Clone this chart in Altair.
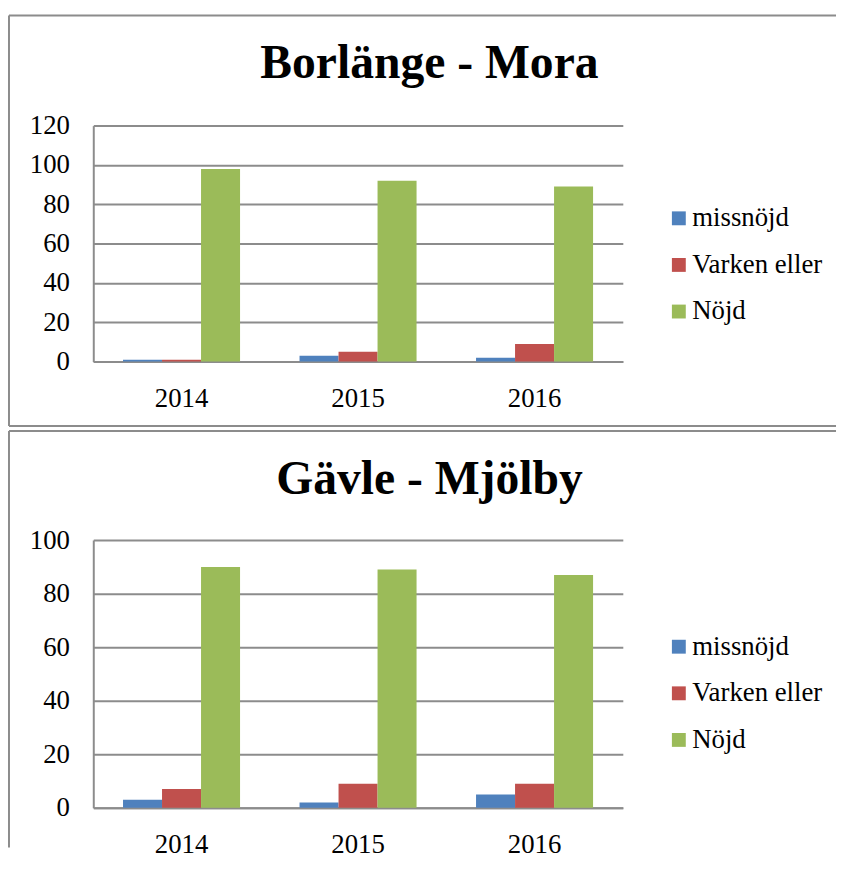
import altair as alt
import pandas as pd

years = ["2014", "2015", "2016"]
series = ["missnöjd", "Varken eller", "Nöjd"]
colors = ["#4F81BD", "#C0504D", "#9BBB59"]

borlange_title = "Borlänge - Mora"
borlange_missnojd = [1, 3, 2]
borlange_varken = [1, 5, 9]
borlange_nojd = [98, 92, 89]
borlange_ticks = [0, 20, 40, 60, 80, 100, 120]

gavle_title = "Gävle - Mjölby"
gavle_missnojd = [3, 2, 5]
gavle_varken = [7, 9, 9]
gavle_nojd = [90, 89, 87]
gavle_ticks = [0, 20, 40, 60, 80, 100]

FONT = "Liberation Serif"
GRAY = "#8c8c8c"


def make_df(a, b, c):
    rows = []
    for s, vals in zip(series, [a, b, c]):
        for y, v in zip(years, vals):
            rows.append({"year": y, "series": s, "value": v})
    return pd.DataFrame(rows)


def panel(title, df, ticks, height, legend_y, title_y, frame_top, frame_bottom, bottom_border):
    bars = alt.Chart(df).mark_bar().encode(
        x=alt.X("year:N", sort=years,
                scale=alt.Scale(paddingInner=0.337, paddingOuter=0.1685),
                axis=alt.Axis(title=None, labelAngle=0, ticks=False, domainColor=GRAY,
                              domainWidth=2, labelFont=FONT, labelFontSize=27,
                              labelColor="black", labelPadding=24, grid=False)),
        xOffset=alt.XOffset("series:N", sort=series,
                            scale=alt.Scale(paddingInner=0, paddingOuter=0)),
        y=alt.Y("value:Q", scale=alt.Scale(domain=[0, ticks[-1]], nice=False),
                axis=alt.Axis(title=None, values=ticks, ticks=False, domainColor=GRAY,
                              domainWidth=2, gridColor=GRAY, gridWidth=2,
                              labelFont=FONT, labelFontSize=27, labelColor="black",
                              labelPadding=24)),
        color=alt.Color("series:N", sort=series,
                        scale=alt.Scale(domain=series, range=colors),
                        legend=alt.Legend(title=None, orient="none", legendX=577,
                                          legendY=legend_y, symbolType="square",
                                          symbolSize=196, symbolStrokeWidth=0,
                                          labelFont=FONT, labelFontSize=27,
                                          labelColor="black", labelOffset=0,
                                          rowPadding=19)),
    )
    one = pd.DataFrame({"k": [0]})
    top = alt.Chart(one).mark_rule(color=GRAY, strokeWidth=2).encode(
        x=alt.value(-85), x2=alt.value(749), y=alt.value(frame_top))
    left = alt.Chart(one).mark_rule(color=GRAY, strokeWidth=2).encode(
        x=alt.value(-85), y=alt.value(frame_top), y2=alt.value(frame_bottom))
    layers = [bars, top, left]
    if bottom_border:
        bottom = alt.Chart(one).mark_rule(color=GRAY, strokeWidth=2).encode(
            x=alt.value(-85), x2=alt.value(749), y=alt.value(frame_bottom))
        layers.append(bottom)
    ttl = alt.Chart(pd.DataFrame({"t": [title]})).mark_text(
        font=FONT, fontSize=48, fontWeight="bold", align="center",
        baseline="alphabetic", color="black").encode(
        text="t:N", x=alt.value(339), y=alt.value(title_y))
    layers.append(ttl)
    return alt.layer(*layers).properties(width=534, height=height)


c1 = panel(borlange_title, make_df(borlange_missnojd, borlange_varken, borlange_nojd),
           borlange_ticks, 238, 80, -48, -111, 303, True)
c2 = panel(gavle_title, make_df(gavle_missnojd, gavle_varken, gavle_nojd),
           gavle_ticks, 270, 94, -46, -110, 310, False)

chart = alt.vconcat(c1, c2, spacing=3).resolve_scale(color="independent").resolve_legend(
    color="independent").properties(
    padding={"left": 0, "top": 3, "right": 0, "bottom": 0}
).configure_view(stroke=None)

chart.save("out.html", embed_options={"renderer": "svg", "actions": False})
